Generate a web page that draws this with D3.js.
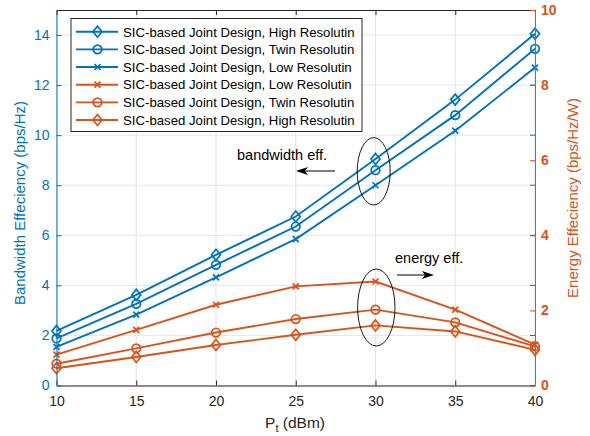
<!DOCTYPE html>
<html>
<head>
<meta charset="utf-8">
<script src="https://cdn.jsdelivr.net/npm/d3@7"></script>
<style>
  body { margin: 0; background: #fff; }
  text { font-family: "Liberation Sans", Arial, sans-serif; }
</style>
</head>
<body>
<svg id="chart" width="590" height="436"></svg>
<script>
// x values (transmit power, dBm)
var ptValues = [10, 15, 20, 25, 30, 35, 40];

// bandwidth efficiency (left axis)
var bwHigh = [2.18, 3.62, 5.22, 6.75, 9.05, 11.42, 14.05];
var bwTwin = [1.88, 3.26, 4.82, 6.35, 8.6, 10.8, 13.45];
var bwLow = [1.54, 2.83, 4.32, 5.85, 8.0, 10.18, 12.7];

// energy efficiency (right axis)
var eeLow = [0.82, 1.48, 2.15, 2.64, 2.77, 2.02, 1.09];
var eeTwin = [0.58, 0.99, 1.41, 1.77, 2.02, 1.68, 1.04];
var eeHigh = [0.46, 0.76, 1.08, 1.35, 1.6, 1.44, 0.95];

var xTicks = [10, 15, 20, 25, 30, 35, 40];
var leftTicks = [0, 2, 4, 6, 8, 10, 12, 14];
var rightTicks = [0, 2, 4, 6, 8, 10];

var legendLabels = [
  "SIC-based Joint Design, High Resolutin",
  "SIC-based Joint Design, Twin Resolutin",
  "SIC-based Joint Design, Low Resolutin",
  "SIC-based Joint Design, Low Resolutin",
  "SIC-based Joint Design, Twin Resolutin",
  "SIC-based Joint Design, High Resolutin"
];

var blue = "#0072BD";
var orange = "#D95319";

var svg = d3.select("#chart");
var plotLeft = 56.5, plotRight = 535, plotTop = 10, plotBottom = 385.5;

var xScale = d3.scaleLinear().domain([10, 40]).range([plotLeft, plotRight]);
var yLeft = d3.scaleLinear().domain([0, 15]).range([plotBottom, plotTop]);
var yRight = d3.scaleLinear().domain([0, 10]).range([plotBottom, plotTop]);

// series table built from the arrays above
var series = [
  { values: bwHigh, axis: "L", color: blue, marker: "diamond" },
  { values: bwTwin, axis: "L", color: blue, marker: "circle" },
  { values: bwLow, axis: "L", color: blue, marker: "x" },
  { values: eeLow, axis: "R", color: orange, marker: "x" },
  { values: eeTwin, axis: "R", color: orange, marker: "circle" },
  { values: eeHigh, axis: "R", color: orange, marker: "diamond" }
];

// grid
var grid = svg.append("g");
grid.selectAll("line.v")
  .data(xTicks)
  .enter()
  .append("line")
  .attr("x1", d => xScale(d)).attr("x2", d => xScale(d))
  .attr("y1", plotTop).attr("y2", plotBottom)
  .attr("stroke", "#e3e3e3").attr("stroke-width", 1);
grid.selectAll("line.h")
  .data(leftTicks)
  .enter()
  .append("line")
  .attr("x1", plotLeft).attr("x2", plotRight)
  .attr("y1", d => yLeft(d)).attr("y2", d => yLeft(d))
  .attr("stroke", "#dde9f3").attr("stroke-width", 1);

function drawMarker(g, type, color) {
  if (type === "diamond") {
    g.append("path")
      .attr("d", "M0,-5.5L4.5,0L0,5.5L-4.5,0Z")
      .attr("fill", "none").attr("stroke", color).attr("stroke-width", 1.7);
  } else if (type === "circle") {
    g.append("circle")
      .attr("r", 4.3)
      .attr("fill", "none").attr("stroke", color).attr("stroke-width", 1.7);
  } else {
    g.append("path")
      .attr("d", "M-3,-3L3,3M-3,3L3,-3")
      .attr("fill", "none").attr("stroke", color).attr("stroke-width", 1.7);
  }
}

// lines and markers
series.forEach(function(s) {
  var yS = s.axis === "L" ? yLeft : yRight;
  var line = d3.line()
    .x((d, i) => xScale(ptValues[i]))
    .y(d => yS(d));
  svg.append("path")
    .datum(s.values)
    .attr("d", line)
    .attr("fill", "none")
    .attr("stroke", s.color)
    .attr("stroke-width", 1.9);
  s.values.forEach(function(v, i) {
    var g = svg.append("g")
      .attr("transform", `translate(${xScale(ptValues[i])},${yS(v)})`);
    drawMarker(g, s.marker, s.color);
  });
});

// axes
var bottomAxis = svg.append("g")
  .attr("transform", `translate(0,${plotBottom})`)
  .call(d3.axisBottom(xScale).tickValues(xTicks).tickSize(-5).tickPadding(11).tickSizeOuter(0));
bottomAxis.select(".domain").attr("stroke", "#262626");
bottomAxis.selectAll(".tick line").attr("stroke", "#262626");
bottomAxis.selectAll("text").attr("fill", "#262626").style("font-size", "14px");

var topAxis = svg.append("g")
  .attr("transform", `translate(0,${plotTop})`)
  .call(d3.axisTop(xScale).tickValues(xTicks).tickSize(-5).tickFormat("").tickSizeOuter(0));
topAxis.select(".domain").attr("stroke", "#262626");
topAxis.selectAll(".tick line").attr("stroke", "#262626");

var leftAxis = svg.append("g")
  .attr("transform", `translate(${plotLeft},0)`)
  .call(d3.axisLeft(yLeft).tickValues(leftTicks).tickSize(-5).tickPadding(7).tickSizeOuter(0));
leftAxis.select(".domain").attr("stroke", blue);
leftAxis.selectAll(".tick line").attr("stroke", blue);
leftAxis.selectAll("text").attr("fill", blue).style("font-size", "14px");

// mirrored left ticks on right side
svg.append("g").selectAll("line")
  .data(leftTicks)
  .enter()
  .append("line")
  .attr("x1", plotRight - 5).attr("x2", plotRight)
  .attr("y1", d => yLeft(d)).attr("y2", d => yLeft(d))
  .attr("stroke", blue);

var rightAxis = svg.append("g")
  .attr("transform", `translate(${plotRight},0)`)
  .call(d3.axisRight(yRight).tickValues(rightTicks).tickSize(-5).tickPadding(6).tickSizeOuter(0));
rightAxis.select(".domain").attr("stroke", orange);
rightAxis.selectAll(".tick line").attr("stroke", orange);
rightAxis.selectAll("text").attr("fill", orange).style("font-size", "14px").style("font-weight", "bold");

// axis labels
svg.append("text")
  .attr("transform", "translate(25,203) rotate(-90)")
  .attr("text-anchor", "middle")
  .attr("fill", blue)
  .style("font-size", "15px")
  .text("Bandwidth Effeciency (bps/Hz)");

svg.append("text")
  .attr("transform", "translate(578,198) rotate(-90)")
  .attr("text-anchor", "middle")
  .attr("fill", orange)
  .style("font-size", "15px")
  .text("Energy Effeciency (bps/Hz/W)");

var xLabel = svg.append("text")
  .attr("x", 295).attr("y", 428)
  .attr("text-anchor", "middle")
  .attr("fill", "#262626")
  .style("font-size", "15.5px");
xLabel.append("tspan").text("P");
xLabel.append("tspan").attr("dy", 4).style("font-size", "11px").text("t");
xLabel.append("tspan").attr("dy", -4).text(" (dBm)");

// annotations
svg.append("ellipse")
  .attr("cx", 373.7).attr("cy", 171.3).attr("rx", 16.5).attr("ry", 33.7)
  .attr("fill", "none").attr("stroke", "#000").attr("stroke-width", 0.9);
svg.append("ellipse")
  .attr("cx", 376.3).attr("cy", 307.5).attr("rx", 18.7).attr("ry", 38.5)
  .attr("fill", "none").attr("stroke", "#000").attr("stroke-width", 0.9);

svg.append("text")
  .attr("x", 237).attr("y", 160)
  .attr("fill", "#000").style("font-size", "14.5px")
  .text("bandwidth eff.");
svg.append("text")
  .attr("x", 395).attr("y", 263)
  .attr("fill", "#000").style("font-size", "14.5px")
  .text("energy eff.");

function arrow(x1, x2, y) {
  var dir = x2 > x1 ? 1 : -1;
  svg.append("line")
    .attr("x1", x1).attr("x2", x2 - dir * 8).attr("y1", y).attr("y2", y)
    .attr("stroke", "#000").attr("stroke-width", 1);
  svg.append("path")
    .attr("d", `M${x2},${y}L${x2 - dir * 12},${y - 4}L${x2 - dir * 9},${y}L${x2 - dir * 12},${y + 4}Z`)
    .attr("fill", "#000");
}
arrow(335, 296, 171);
arrow(397, 434, 275);

// legend
var legend = svg.append("g");
legend.append("rect")
  .attr("x", 71).attr("y", 18.5).attr("width", 291).attr("height", 113)
  .attr("fill", "#fff").attr("stroke", "#262626").attr("stroke-width", 1);
series.forEach(function(s, i) {
  var y = 31.7 + i * 17.66;
  legend.append("line")
    .attr("x1", 76).attr("x2", 118).attr("y1", y).attr("y2", y)
    .attr("stroke", s.color).attr("stroke-width", 1.9);
  var g = legend.append("g").attr("transform", `translate(97.5,${y})`);
  drawMarker(g, s.marker, s.color);
  legend.append("text")
    .attr("x", 123).attr("y", y + 4.8)
    .attr("fill", "#000").style("font-size", "13.2px")
    .text(legendLabels[i]);
});
</script>
</body>
</html>
